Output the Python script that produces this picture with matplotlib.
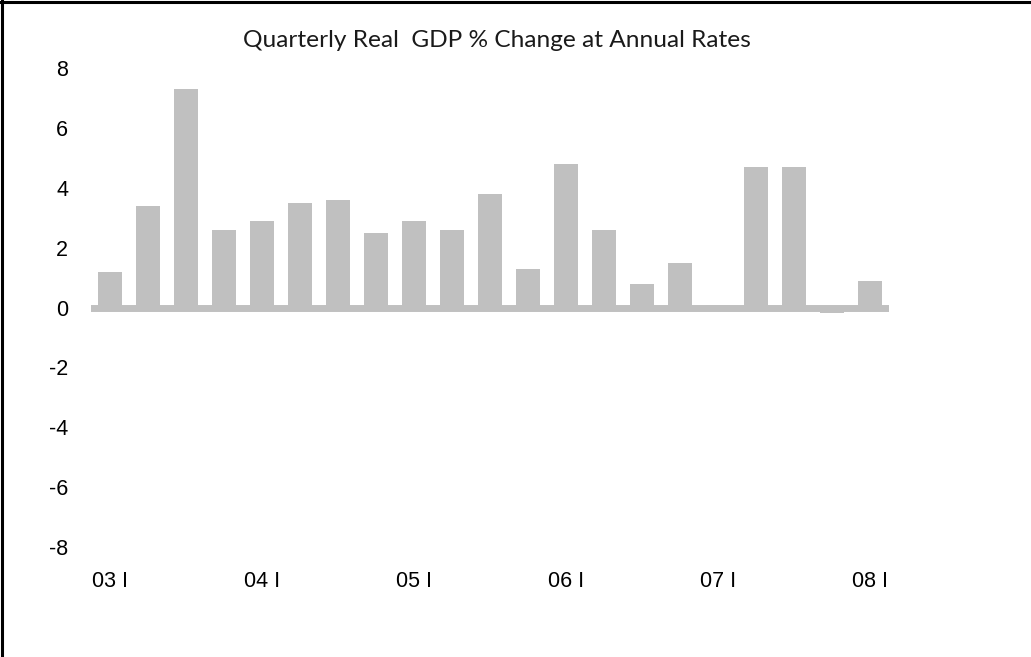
import numpy as np
import matplotlib
matplotlib.use('Agg')
from matplotlib import pyplot as plt
from matplotlib.lines import Line2D

# quarterly real GDP, % change at annual rates, 2003 Q1 .. 2008 Q1
quarters = ['03 I', '03 II', '03 III', '03 IV',
            '04 I', '04 II', '04 III', '04 IV',
            '05 I', '05 II', '05 III', '05 IV',
            '06 I', '06 II', '06 III', '06 IV',
            '07 I', '07 II', '07 III', '07 IV',
            '08 I']
gdp_change = [1.2, 3.4, 7.3, 2.6, 2.9, 3.5, 3.6, 2.5, 2.9, 2.6, 3.8,
              1.3, 4.8, 2.6, 0.8, 1.5, 0.1, 4.7, 4.7, -0.2, 0.9]
y_ticks = [-8, -6, -4, -2, 0, 2, 4, 6, 8]

bar_color = '#c0c0c0'

fig = plt.figure(figsize=(10.31, 6.57), dpi=100)
ax = fig.add_axes([0.0883, 0.1674, 0.7737, 0.7291])

x = np.arange(len(gdp_change))
ax.bar(x, gdp_change, width=0.62, color=bar_color, zorder=2)
# heavy zero line acting as the category axis
ax.axhline(0, color=bar_color, linewidth=5.0, zorder=1)

ax.set_xlim(-0.5, len(gdp_change) - 0.5)
ax.set_ylim(-8, 8)
ax.set_yticks(y_ticks)
ax.set_yticklabels([str(v) for v in y_ticks])
ax.set_xticks(x[::4])
ax.set_xticklabels(quarters[::4])

for s in ax.spines.values():
    s.set_visible(False)
ax.tick_params(axis='both', length=0, labelsize=15.5)
ax.tick_params(axis='y', pad=16.5)
ax.tick_params(axis='x', pad=17)
for lbl in ax.get_xticklabels() + ax.get_yticklabels():
    lbl.set_fontfamily(['Liberation Sans', 'DejaVu Sans'])

fig.text(0.482, 0.939, 'Quarterly Real  GDP % Change at Annual Rates',
         ha='center', va='center', fontsize=17.6, color='#1a1a1a',
         family=['Lato', 'DejaVu Sans'])

# outer frame, only the left and top edges fall inside the image
fig.add_artist(Line2D([0.0015, 0.0015], [0, 1], transform=fig.transFigure,
                      color='black', linewidth=2.2))
fig.add_artist(Line2D([0, 1], [0.9975, 0.9975], transform=fig.transFigure,
                      color='black', linewidth=2.2))

fig.savefig('out.png', dpi=100, facecolor='white')
